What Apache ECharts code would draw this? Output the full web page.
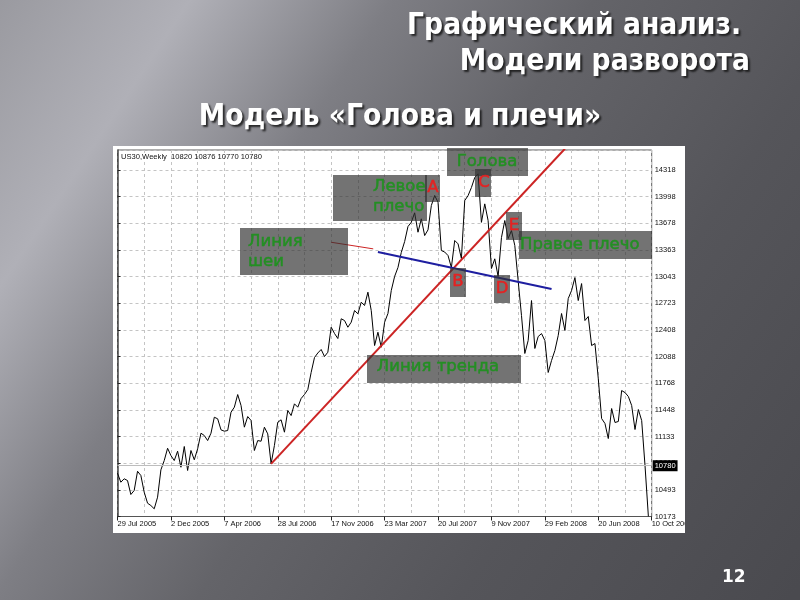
<!DOCTYPE html>
<html><head><meta charset="utf-8">
<script src="https://cdn.jsdelivr.net/npm/echarts@6/dist/echarts.min.js"></script>
<style>html,body{margin:0;padding:0;background:#666;}#c{width:800px;height:600px;}</style>
</head><body><div id="c"></div>
<script>
// ---- data ----
const dateTicks = ['29 Jul 2005','2 Dec 2005','7 Apr 2006','28 Jul 2006','17 Nov 2006','23 Mar 2007','20 Jul 2007','9 Nov 2007','29 Feb 2008','20 Jun 2008','10 Oct 2008'];
const priceTicks = ['10173','10493','10813','11133','11448','11768','12088','12408','12723','13043','13363','13678','13998','14318'];
const priceStep = 318.846;      // MT4 price-scale step
const barsPerDateTick = 16;
// weekly closes, one per bar (bar 0 = 29 Jul 2005)
const closes = [
 10690,10583,10624,10603,10436,10484,10714,10663,10463,10332,
 10304,10265,10404,10731,10842,10989,10902,10842,10954,10762,
 11010,10723,10962,10851,10982,11169,11141,11081,11169,11360,
 11341,11209,11193,11201,11420,11480,11631,11500,11241,11368,
 11321,10962,11081,11073,11241,11161,10803,11022,11300,11329,
 11181,11440,11380,11520,11480,11584,11632,11691,11895,12074,
 12128,12170,12086,12137,12436,12361,12301,12537,12516,12436,
 12496,12636,12596,12735,12696,12855,12636,12217,12376,12197,
 12496,12600,12875,13043,13150,13330,13460,13640,13691,13804,
 13572,13732,13532,13600,13891,14011,13931,13353,13335,13293,
 13150,13473,13433,13257,13950,14010,14106,14226,14270,13690,
 13911,13712,13138,13254,13043,13508,13712,13496,13592,13413,
 12994,12576,12122,12277,12755,12182,12325,12360,12277,11895,
 12038,12158,12337,12600,12397,12779,12875,13030,12755,12958,
 12516,12564,12217,12241,11823,11344,11285,11105,11464,11297,
 11309,11679,11655,11608,11500,11213,11452,11320,10780,10175
];
const trendLine = [[46,10803],[134,14570]];   // [bar, price]
const neckLine  = [[78,13335],[130,12893]];
const neckArrow = [[64,13452],[76.6,13373]];
const lastPrice = 10780;
const headerText = 'US30,Weekly  10820 10876 10770 10780';
const titleLines = ['Графический анализ.','Модели разворота','Модель «Голова и плечи»'];
const slideNumber = '12';

// ---- chart ----
const yMin = Number(priceTicks[0]);
const chart = echarts.init(document.getElementById('c'), null, {renderer:'canvas'});
const TF = "'DejaVu Sans', sans-serif";
const HF = "'DejaVu Sans Condensed', 'DejaVu Sans', sans-serif";
const AF = "'Liberation Sans', Arial, sans-serif";
const GREEN = '#238f23', RED = '#e42222', BOX = 'rgba(48,48,48,0.68)';
const dash = {color:'#c4c4c4', width:1, type:[3,3]};
function bgGrad(){
  return new echarts.graphic.LinearGradient(0,0,825,547,[
    {offset:0,color:'#9a9aa0'},{offset:0.16,color:'#b0b0b7'},{offset:0.33,color:'#7e7e84'},
    {offset:0.5,color:'#646469'},{offset:0.72,color:'#55555a'},{offset:1,color:'#4a4a4f'}], true);
}

function box(x,y,w,h){ return {type:'rect', z:20, shape:{x:x,y:y,width:w,height:h}, style:{fill:BOX}}; }
function txt(t,x,y,color,align){ return {type:'text', z:21, style:{text:t, x:x, y:y, fill:color, stroke:color, lineWidth:0.5,
  font:'16.5px '+TF, textAlign:align||'left', textVerticalAlign:'middle'}}; }

const titleStyle = {color:'#fff', fontSize:29.6, fontWeight:'bold', fontFamily:HF,
  textShadowColor:'rgba(20,20,20,0.85)', textShadowBlur:2, textShadowOffsetX:2, textShadowOffsetY:2};

chart.setOption({
  animation:false,
  title:[
    {text:titleLines[0], right:59, top:11, padding:0, textStyle:titleStyle},
    {text:titleLines[1], right:50, top:47, padding:0, textStyle:titleStyle},
    {text:titleLines[2], left:'center', top:102, padding:0, textStyle:titleStyle},
    {text:slideNumber, left:722, top:569, padding:0, textStyle:{color:'#fff', fontSize:17, fontFamily:TF}}
  ],
  graphic:[
    {type:'rect', z:-100, shape:{x:0,y:0,width:800,height:600}, style:{fill:bgGrad()}},
    {type:'rect', z:-90, shape:{x:113,y:146,width:572,height:387}, style:{fill:'#ffffff'}},
    {type:'rect', z:50, shape:{x:685,y:515,width:20,height:20}, style:{fill:bgGrad()}},
    {type:'text', z:5, style:{text:headerText, x:121, y:157, fill:'#111', font:'7.6px '+AF, textVerticalAlign:'middle'}},
    box(333,175,94,46), box(425,175,15,27), box(447,148,81,28), box(475,169,16,28),
    box(240,228,108,47), box(450,268,16,29), box(494,275,16,28), box(506,212,16,28),
    box(519,231,133,28), box(367,355,154,28),
    txt('Левое',373,187,GREEN), txt('плечо',373,207,GREEN), txt('A',433,188,RED,'center'),
    txt('Голова',487,162,GREEN,'center'), txt('C',484,183,RED,'center'),
    txt('Линия',248,242,GREEN), txt('шеи',248,262,GREEN),
    txt('B',458,282,RED,'center'), txt('D',502,289,RED,'center'), txt('E',514,226,RED,'center'),
    txt('Правое плечо',520,245,GREEN), txt('Линия тренда',438,367,GREEN,'center')
  ],
  grid:{left:117.5, right:148.3, top:150, bottom:83.5, show:true, borderColor:'#5a5a5a', borderWidth:1, backgroundColor:'transparent'},
  xAxis:{type:'value', min:0, max:160, interval:barsPerDateTick,
    axisLine:{show:true, lineStyle:{color:'#555'}},
    axisTick:{show:true, length:4, lineStyle:{color:'#222'}},
    axisLabel:{align:'left', margin:3, fontSize:7.5, color:'#111', fontFamily:AF, showMinLabel:true, showMaxLabel:true,
      formatter:function(v){ const k=Math.round(v/barsPerDateTick); return Math.abs(v-k*barsPerDateTick)<0.01 && dateTicks[k] ? dateTicks[k] : ''; }},
    splitLine:{show:true, lineStyle:dash},
    minorTick:{show:false, splitNumber:2},
    minorSplitLine:{show:true, lineStyle:dash}},
  yAxis:{type:'value', position:'right', min:yMin, max:14555, interval:priceStep, scale:true,
    axisLine:{show:true, lineStyle:{color:'#444', width:1.5}},
    axisTick:{show:true, length:3, lineStyle:{color:'#222'}},
    axisLabel:{margin:3, fontSize:7.5, color:'#111', fontFamily:AF, showMaxLabel:false,
      formatter:function(v){ const k=Math.round((v-yMin)/priceStep); return (k>=0 && k<priceTicks.length && Math.abs(v-(yMin+k*priceStep))<1) ? priceTicks[k] : ''; }},
    splitLine:{show:true, lineStyle:dash}},
  series:[
    {type:'line', name:'US30', data:closes.map(function(v,i){return [i,v];}), showSymbol:false, symbol:'none',
      lineStyle:{color:'#000', width:1}, z:3,
      markLine:{silent:true, symbol:['none','none'], lineStyle:{color:'#bdbdbd', type:'solid', width:1},
        label:{show:true, position:'end', distance:1, formatter:String(lastPrice), backgroundColor:'#000', color:'#fff',
          fontSize:7.5, fontFamily:AF, padding:[2,2,1,2]},
        data:[{yAxis:lastPrice}]}},
    {type:'line', name:'trend', data:trendLine, showSymbol:false, symbol:'none', clip:true,
      lineStyle:{color:'#cc2424', width:2}, z:4},
    {type:'line', name:'neck', data:neckLine, showSymbol:false, symbol:'none',
      lineStyle:{color:'#1e1ea0', width:2}, z:4,
      markLine:{silent:true, symbol:['none','arrow'], symbolSize:[0,8], lineStyle:{color:'#cc2424', width:1, type:'solid'},
        label:{show:false}, data:[[{coord:neckArrow[0]},{coord:neckArrow[1]}]]}}
  ]
});
</script></body></html>
